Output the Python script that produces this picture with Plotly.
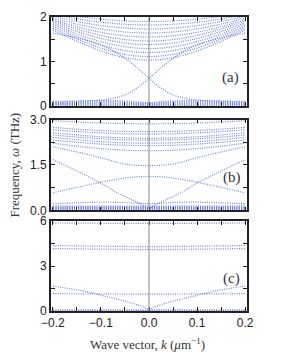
import plotly.graph_objects as go

# ---------------- data ----------------
# symmetric bands: values given for k >= 0, mirrored to k < 0
K_A = [0, 0.025, 0.05, 0.075, 0.1, 0.15, 0.2]
A_UPPER = [
    [1.90, 1.903, 1.913, 1.929, 1.952, 2.015, 2.10],
    [1.82, 1.824, 1.836, 1.856, 1.883, 1.959, 2.06],
    [1.73, 1.735, 1.750, 1.774, 1.807, 1.899, 2.02],
    [1.64, 1.646, 1.663, 1.692, 1.731, 1.839, 1.98],
    [1.55, 1.557, 1.577, 1.611, 1.656, 1.780, 1.94],
    [1.46, 1.468, 1.492, 1.531, 1.585, 1.728, 1.91],
    [1.38, 1.389, 1.416, 1.459, 1.517, 1.673, 1.87],
    [1.29, 1.300, 1.330, 1.379, 1.444, 1.616, 1.83],
    [1.20, 1.211, 1.245, 1.299, 1.371, 1.560, 1.79],
    [1.11, 1.123, 1.160, 1.220, 1.300, 1.504, 1.75],
    [1.03, 1.044, 1.085, 1.150, 1.236, 1.452, 1.71],
]
K_A_LOW = [0, 0.025, 0.05, 0.1, 0.15, 0.2]
A_LOW = [
    [0.010, 0.010, 0.012, 0.012, 0.010, 0.010],
    [0.025, 0.030, 0.035, 0.040, 0.035, 0.030],
    [0.040, 0.050, 0.060, 0.065, 0.055, 0.045],
    [0.055, 0.070, 0.085, 0.090, 0.075, 0.060],
    [0.070, 0.095, 0.110, 0.120, 0.100, 0.075],
]
# crossing branch in (a) (the other branch is its mirror image)
K_A_CROSS = [-0.2, -0.15, -0.1, -0.075, -0.05, -0.025, 0, 0.025, 0.05, 0.075, 0.1, 0.15, 0.2]
A_CROSS = [0.10, 0.11, 0.13, 0.17, 0.25, 0.40, 0.62, 0.86, 1.07, 1.24, 1.37, 1.53, 1.64]

K_B = [0, 0.05, 0.1, 0.15, 0.2]
B_BANDS = [
    [2.86, 2.867, 2.887, 2.92, 2.96],
    [2.60, 2.61, 2.64, 2.685, 2.74],
    [2.52, 2.53, 2.56, 2.605, 2.66],
    [2.38, 2.393, 2.43, 2.49, 2.56],
    [2.32, 2.332, 2.366, 2.42, 2.49],
    [2.22, 2.233, 2.27, 2.334, 2.41],
    [2.14, 2.153, 2.19, 2.25, 2.32],
    [1.97, 1.988, 2.04, 2.12, 2.22],
    [1.48, 1.53, 1.74, 1.93, 2.10],
    [0.22, 0.26, 0.27, 0.25, 0.22],
    [0.140, 0.140, 0.145, 0.140, 0.150],
    [0.115, 0.115, 0.115, 0.115, 0.115],
    [0.090, 0.090, 0.090, 0.090, 0.090],
    [0.065, 0.065, 0.065, 0.065, 0.065],
    [0.040, 0.040, 0.040, 0.040, 0.040],
    [0.015, 0.015, 0.015, 0.015, 0.015],
]
K_B_V = [0, 0.015, 0.033, 0.067, 0.1, 0.15, 0.2]
B_V = [0.06, 0.20, 0.33, 0.59, 0.90, 1.30, 1.68]
K_B_L = [0, 0.025, 0.05, 0.1, 0.15, 0.2]
B_L = [1.12, 1.11, 1.07, 0.93, 0.76, 0.58]

K_C = [0, 0.1, 0.2]
C_BANDS = [
    [5.85, 5.86, 5.88],
    [4.30, 4.33, 4.37],
    [4.10, 4.13, 4.17],
    [1.13, 1.14, 1.16],
    [0.08, 0.08, 0.08],
    [0.03, 0.03, 0.03],
]
K_C_V = [0, 0.01, 0.037, 0.07, 0.1, 0.14, 0.2]
C_V = [0.10, 0.25, 0.54, 0.82, 1.05, 1.35, 1.66]

# ---------------- styling ----------------
DOT = dict(color="rgba(75,100,225,0.8)", width=1.2, dash="1px,1.3px", shape="spline")


def mirror(ks, vs):
    kk = [-k for k in reversed(ks[1:])] + list(ks)
    vv = list(reversed(vs[1:])) + list(vs)
    return kk, vv


fig = go.Figure()


def add(ks, vs, ax):
    fig.add_trace(go.Scatter(x=ks, y=vs, mode="lines", line=DOT,
                             xaxis="x" + ax, yaxis="y" + ax,
                             hoverinfo="skip", showlegend=False))


# panel (a) -> axes x/y
for b in A_UPPER:
    add(*mirror(K_A, b), "")
for b in A_LOW:
    add(*mirror(K_A_LOW, b), "")
add(K_A_CROSS, A_CROSS, "")
add([-k for k in K_A_CROSS], A_CROSS, "")

# panel (b) -> x2/y2
for b in B_BANDS:
    add(*mirror(K_B, b), "2")
add(*mirror(K_B_V, B_V), "2")
add(*mirror(K_B_L, B_L), "2")

# panel (c) -> x3/y3
for b in C_BANDS:
    add(*mirror(K_C, b), "3")
add(*mirror(K_C_V, C_V), "3")

XR = [-0.204, 0.204]
tickfont = dict(family="Liberation Sans, Arial, sans-serif", size=12, color="#222")
common = dict(showline=True, linecolor="#222", linewidth=1.6, mirror="ticks",
              ticks="inside", ticklen=4, tickwidth=1, tickcolor="#222",
              showgrid=False, zeroline=False, tickfont=tickfont)

dom = {"": [0.6977, 1.0], "2": [0.3422, 0.6512], "3": [0.0, 0.3056]}
yr = {"": ([0, 2], [0, 1, 2], ["0", "1", "2"], 0.5),
      "2": ([0, 3], [0, 1.5, 3], ["0.0", "1.5", "3.0"], 0.75),
      "3": ([0, 6], [0, 3, 6], ["0", "3", "6"], 1.5)}

layout = {}
for ax in ["", "2", "3"]:
    rng, tv, tt, mdt = yr[ax]
    layout["xaxis" + ax] = dict(common, range=XR, domain=[0, 1], anchor="y" + ax,
                                tickvals=[-0.2, -0.1, 0, 0.1, 0.2],
                                ticktext=["\u22120.2", "\u22120.1", "0.0", "0.1", "0.2"],
                                showticklabels=(ax == "3"),
                                minor=dict(dtick=0.05, tick0=0, ticks="inside", ticklen=4,
                                           tickcolor="#222"))
    layout["yaxis" + ax] = dict(common, range=rng, domain=dom[ax], anchor="x" + ax,
                                tickvals=tv, ticktext=tt,
                                minor=dict(dtick=mdt, tick0=0, ticks="inside", ticklen=4,
                                           tickcolor="#222"))

shapes = []
for ax in ["", "2", "3"]:
    shapes.append(dict(type="line", xref="x" + ax, yref="y" + ax + " domain",
                       x0=0, x1=0, y0=0, y1=1, line=dict(color="#8a8a8a", width=1)))

serif = "Liberation Serif, DejaVu Serif, serif"
ann = dict(xref="paper", yref="paper", showarrow=False, xanchor="center", yanchor="middle")
annotations = [
    dict(ann, text="(a)", x=0.918, y=0.794, font=dict(family=serif, size=15, color="#333")),
    dict(ann, text="(b)", x=0.922, y=0.455, font=dict(family=serif, size=15, color="#333")),
    dict(ann, text="(c)", x=0.922, y=0.110, font=dict(family=serif, size=15, color="#333")),
    dict(ann, text="Frequency, <i>\u03c9</i> (THz)", x=-0.184, y=0.498, textangle=-90,
         font=dict(family=serif, size=13, color="#333")),
    dict(ann, text="Wave vector, <i>k</i> (<i>\u03bc</i>m<sup>\u22121</sup>)", x=0.49, y=-0.113,
         font=dict(family=serif, size=13, color="#333")),
]

fig.update_layout(**layout)
fig.update_layout(width=299, height=352, margin=dict(l=51, r=52, t=10, b=41),
                  paper_bgcolor="white", plot_bgcolor="white",
                  shapes=shapes, annotations=annotations, showlegend=False)

fig.write_html("out.html", config={"displayModeBar": False},
               post_script="document.body.style.margin='0px';document.body.style.overflow='hidden';")
